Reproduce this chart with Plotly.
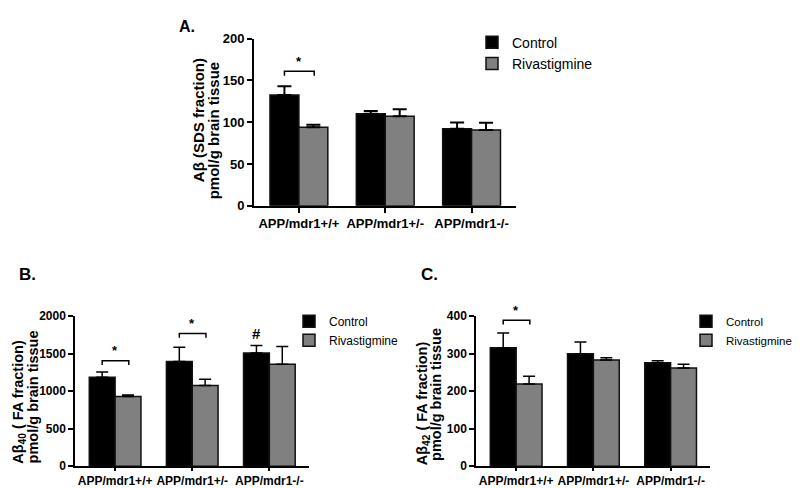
import plotly.graph_objects as go

# ---------------- data ----------------
groups = ["APP/mdr1+/+", "APP/mdr1+/-", "APP/mdr1-/-"]
series_names = ["Control", "Rivastigmine"]

A_control = [132.5, 110, 92]
A_control_sem = [10.5, 3.3, 7.5]
A_riv = [94, 107, 90.5]
A_riv_sem = [3, 8.5, 8.8]

B_control = [1185, 1395, 1510]
B_control_sem = [70, 190, 100]
B_riv = [930, 1075, 1360]
B_riv_sem = [20, 84, 235]

C_control = [316, 300, 276]
C_control_sem = [39, 31, 5]
C_riv = [219, 283, 262]
C_riv_sem = [21, 6, 10]

# significance brackets: (group index, bracket level, bracket drop)
A_sig = [(0, 161, 5.5)]
B_sig = [(0, 1405, 55), (1, 1768, 57)]
C_sig = [(0, 389, 11)]
B_hash = [(2, 1775)]  # '#' over control bar

A_yticks = [0, 50, 100, 150, 200]
B_yticks = [0, 500, 1000, 1500, 2000]
C_yticks = [0, 100, 200, 300, 400]

FONT = "Arial, Liberation Sans, sans-serif"
BLACK = "#000000"
GREY = "#808080"

xpos = list(range(len(groups)))
BARGAP = 0.33
half = (1 - BARGAP) / 4  # offset of bar centres from group centre

fig = go.Figure()

def add_panel(ax, ctrl, ctrl_sem, riv, riv_sem, legend, err_w, err_th, sig, sig_font):
    xa = "x" if ax == 1 else f"x{ax}"
    ya = "y" if ax == 1 else f"y{ax}"
    for name, vals, sem, col in [(series_names[0], ctrl, ctrl_sem, BLACK),
                                 (series_names[1], riv, riv_sem, GREY)]:
        fig.add_trace(go.Bar(
            x=xpos, y=vals, name=name, xaxis=xa, yaxis=ya, legend=legend,
            marker=dict(color=col, line=dict(color="#111111", width=1.5)),
            error_y=dict(type="data", array=sem, arrayminus=[0] * len(sem),
                         symmetric=False, color=BLACK, thickness=err_th, width=err_w),
        ))
    for g, lvl, drop in sig:
        x0 = g - half
        x1 = g + half + 0.01
        fig.add_trace(go.Scatter(
            x=[x0, x0, x1, x1], y=[lvl - drop, lvl, lvl, lvl - drop],
            mode="lines", line=dict(color=BLACK, width=1.5),
            xaxis=xa, yaxis=ya, showlegend=False, hoverinfo="skip", cliponaxis=False))
        fig.add_annotation(x=g, y=lvl, xref=xa, yref=ya, text="*", showarrow=False,
                           xanchor="center", yanchor="middle", yshift=10,
                           font=dict(family=FONT, size=sig_font, color=BLACK, weight="bold"))

add_panel(1, A_control, A_control_sem, A_riv, A_riv_sem, "legend", 7, 2, A_sig, 13)
add_panel(2, B_control, B_control_sem, B_riv, B_riv_sem, "legend2", 6, 1.5, B_sig, 13)
add_panel(3, C_control, C_control_sem, C_riv, C_riv_sem, "legend3", 6, 1.5, C_sig, 13)

for g, lvl in B_hash:
    fig.add_annotation(x=g - half, y=lvl, xref="x2", yref="y2", text="#", showarrow=False,
                       xanchor="center", yanchor="middle",
                       font=dict(family=FONT, size=15, color=BLACK, weight="bold"))

W, H = 800, 488
def px(x):
    return x / W
def py(y):
    return 1 - y / H

def xaxis(dom, fs, lw, tl):
    return dict(domain=dom, range=[-0.52, 2.51], tickmode="array", tickvals=xpos,
                ticktext=groups, showline=True, linecolor=BLACK, linewidth=lw,
                ticks="outside", ticklen=tl, tickwidth=lw, tickcolor=BLACK,
                showgrid=False, zeroline=False, fixedrange=True,
                tickfont=dict(family=FONT, size=fs, color=BLACK, weight="bold"))

def yaxis(dom, rng, tv, fs, lw, anchor):
    return dict(domain=dom, range=rng, tickmode="array", tickvals=tv,
                showline=True, linecolor=BLACK, linewidth=lw, anchor=anchor,
                ticks="outside", ticklen=5, tickwidth=lw, tickcolor=BLACK,
                showgrid=False, zeroline=False, fixedrange=True,
                tickfont=dict(family=FONT, size=fs, color=BLACK, weight="bold"))

fig.update_layout(
    width=W, height=H, autosize=False,
    margin=dict(l=0, r=0, t=0, b=0),
    paper_bgcolor="white", plot_bgcolor="white",
    barmode="group", bargap=BARGAP, bargroupgap=0,
    font=dict(family=FONT, color=BLACK),
    xaxis=dict(xaxis([px(246), px(507.6)], 13, 2, 5), anchor="y"),
    yaxis=yaxis([py(196.8), py(24.3)], [0, 200], A_yticks, 13, 2, "x"),
    xaxis2=dict(xaxis([px(67), px(300.7)], 12, 1.5, 3), anchor="y2"),
    yaxis2=yaxis([py(465.5), py(310.7)], [0, 2000], B_yticks, 12, 1.5, "x2"),
    xaxis3=dict(xaxis([px(468), px(702)], 12, 1.5, 3), anchor="y3"),
    yaxis3=yaxis([py(465.5), py(310.7)], [0, 400], C_yticks, 12, 1.5, "x3"),
    legend=dict(x=px(464), y=py(12), xanchor="left", yanchor="top",
                font=dict(family=FONT, size=14, color=BLACK), bgcolor="rgba(0,0,0,0)"),
    legend2=dict(x=px(281), y=py(301), xanchor="left", yanchor="top", tracegroupgap=0,
                 font=dict(family=FONT, size=12, color=BLACK), bgcolor="rgba(0,0,0,0)"),
    legend3=dict(x=px(678), y=py(301), xanchor="left", yanchor="top",
                 font=dict(family=FONT, size=11.5, color=BLACK), bgcolor="rgba(0,0,0,0)"),
)

def ann(text, x, y, size, angle=0, xanchor="center", bold=True):
    fig.add_annotation(text=text, x=px(x), y=py(y), xref="paper", yref="paper",
                       showarrow=False, textangle=angle, xanchor=xanchor, yanchor="middle",
                       font=dict(family=FONT, size=size, color=BLACK,
                                 weight="bold" if bold else "normal"))

# y-axis titles (two lines each)
ann("Aβ (SDS fraction)", 190.5, 109, 15, -90)
ann("pmol/g brain tissue", 205, 119, 15, -90)
ann("Aβ<sub>40</sub> ( FA fraction)", 11, 399, 14.5, -90)
ann("pmol/g brain tissue", 24.5, 394, 14.5, -90)
ann("Aβ<sub>42</sub> ( FA fraction)", 414.5, 400, 14.5, -90)
ann("pmol/g brain tissue", 428, 392, 14.5, -90)

# panel labels
ann("A.", 169, 12, 16, xanchor="left")
ann("B.", 9, 268, 17, xanchor="left")
ann("C.", 411, 268, 17, xanchor="left")

fig.write_html("out.html")
